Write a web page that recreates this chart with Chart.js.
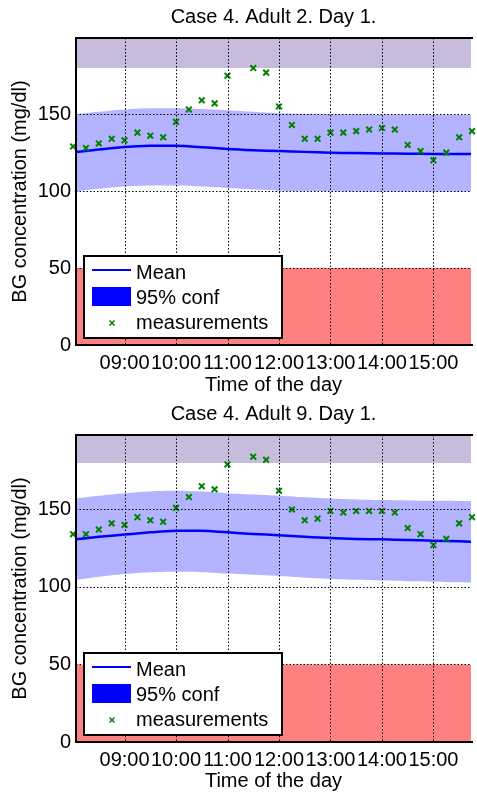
<!DOCTYPE html>
<html>
<head>
<meta charset="utf-8">
<script src="https://cdn.jsdelivr.net/npm/chart.js@4.4.0/dist/chart.umd.min.js"></script>
<style>
  html, body { margin: 0; padding: 0; background: #fff; overflow: hidden; }
  canvas { display: block; }
</style>
</head>
<body>
<canvas id="chartAdult2" width="477" height="397"></canvas>
<canvas id="chartAdult9" width="477" height="396"></canvas>
<script>
// axes
const hourTicks = [9, 10, 11, 12, 13, 14, 15];
const hourLabels = ['09:00', '10:00', '11:00', '12:00', '13:00', '14:00', '15:00'];
const bgTicks = [0, 50, 100, 150];
const timeRange = [8.057, 15.73];

// glucose limits (hypo band 0-50, hyper band 180-200)
const hypoBand = [0, 50];
const hyperBand = [180, 200];
const bandSpan = [7.5, 16.5];

// CGM measurements every 15 minutes (11:15 missing)
const measTimes = [8, 8.25, 8.5, 8.75, 9, 9.25, 9.5, 9.75, 10, 10.25, 10.5, 10.75, 11,
  11.5, 11.75, 12, 12.25, 12.5, 12.75, 13, 13.25, 13.5, 13.75, 14, 14.25, 14.5, 14.75,
  15, 15.25, 15.5, 15.75];
const adult2Meas = [129, 128, 131, 134, 133, 138, 136, 135, 145, 153, 159, 157, 175,
  180, 177, 155, 143, 134, 134, 138, 138, 139, 140, 141, 140, 130, 126, 120, 125, 135, 139];
const adult9Meas = [134, 134, 137, 141, 140, 145, 143, 142, 151, 158, 165, 163, 179,
  184, 182, 162, 150, 143, 144, 149, 148, 149, 149, 149, 148, 138, 134, 127, 131, 141, 145];

// model prediction: mean and 95% confidence limits
const modelTimes = [8, 8.5, 9, 9.5, 10, 10.5, 11, 11.5, 12, 12.5, 13, 13.5, 14, 14.5, 15, 15.5, 16];
const adult2Mean = [125.2, 127.0, 128.6, 129.4, 129.4, 128.5, 127.4, 126.6, 126.0, 125.5, 125.0, 124.7, 124.5, 124.3, 124.2, 124.2, 124.2];
const adult2Upper = [149.8, 151.5, 153.0, 153.8, 153.8, 153.3, 152.5, 151.5, 150.6, 150.2, 150.0, 149.9, 149.8, 149.8, 149.7, 149.7, 149.7];
const adult2Lower = [99.6, 101.5, 103.0, 103.6, 103.6, 103.0, 102.0, 101.0, 100.3, 100.0, 99.9, 99.8, 99.7, 99.7, 99.7, 99.7, 99.7];
const adult9Mean = [130.6, 132.3, 133.8, 135.2, 136.2, 136.2, 135.2, 134.2, 133.3, 132.3, 131.5, 131.0, 130.7, 130.3, 129.8, 129.4, 129.0];
const adult9Upper = [156.8, 158.8, 160.5, 161.6, 162.0, 161.5, 160.5, 159.6, 158.8, 157.8, 157.0, 156.4, 156.0, 155.8, 155.6, 155.5, 155.4];
const adult9Lower = [104.1, 106.5, 108.3, 109.4, 109.8, 109.5, 108.6, 107.8, 107.0, 106.0, 105.2, 104.6, 104.1, 103.7, 103.4, 103.0, 102.7];

const FONT = 'Liberation Sans, Arial, sans-serif';
const FSIZE = 20;
const pts = (xs, ys) => xs.map((x, i) => ({ x: x, y: ys[i] }));

// dotted grid drawn on top of the filled bands (matlab draws the grid over patches)
const dottedGrid = {
  id: 'dottedGrid',
  afterDatasetsDraw(chart) {
    const { ctx, chartArea: a, scales } = chart;
    ctx.save();
    ctx.strokeStyle = '#000';
    ctx.lineWidth = 1;
    ctx.setLineDash([1.5, 2]);
    ctx.beginPath();
    scales.x.ticks.forEach(t => {
      const px = Math.round(scales.x.getPixelForValue(t.value)) + 0.5;
      ctx.moveTo(px, a.top);
      ctx.lineTo(px, a.bottom);
    });
    scales.y.ticks.forEach(t => {
      const py = Math.round(scales.y.getPixelForValue(t.value)) + 0.5;
      ctx.moveTo(a.left, py);
      ctx.lineTo(a.right, py);
    });
    ctx.stroke();
    ctx.restore();
  }
};

// black frame on left, top and bottom like the matlab axes box
const axesFrame = {
  id: 'axesFrame',
  afterDraw(chart) {
    const { ctx, chartArea: a } = chart;
    ctx.save();
    ctx.strokeStyle = '#000';
    ctx.lineWidth = 2;
    ctx.beginPath();
    ctx.moveTo(a.right + 2, a.top);
    ctx.lineTo(a.left, a.top);
    ctx.lineTo(a.left, a.bottom);
    ctx.lineTo(a.right + 2, a.bottom);
    ctx.stroke();
    ctx.restore();
  }
};

// legend box in the lower left corner of the plot
const insideLegend = {
  id: 'insideLegend',
  afterDraw(chart) {
    const { ctx, chartArea: a } = chart;
    const ds = chart.data.datasets;
    const mean = ds.find(d => d.key === 'mean');
    const conf = ds.find(d => d.key === 'upper');
    const meas = ds.find(d => d.key === 'meas');
    const w = 198, h = 82;
    const x = a.left + 8, y = a.bottom - 7 - h;
    ctx.save();
    ctx.fillStyle = '#fff';
    ctx.fillRect(x, y, w, h);
    ctx.strokeStyle = '#000';
    ctx.lineWidth = 2;
    ctx.strokeRect(x, y, w, h);

    ctx.strokeStyle = mean.borderColor;
    ctx.lineWidth = 2;
    ctx.beginPath();
    ctx.moveTo(x + 8, y + 14);
    ctx.lineTo(x + 47, y + 14);
    ctx.stroke();

    ctx.fillStyle = '#0000ff';
    ctx.fillRect(x + 8, y + 31, 39, 19);

    ctx.strokeStyle = meas.borderColor;
    ctx.lineWidth = 1.5;
    ctx.beginPath();
    ctx.moveTo(x + 25.5, y + 64.5); ctx.lineTo(x + 30.5, y + 69.5);
    ctx.moveTo(x + 30.5, y + 64.5); ctx.lineTo(x + 25.5, y + 69.5);
    ctx.stroke();

    ctx.fillStyle = '#000';
    ctx.font = FSIZE + 'px ' + FONT;
    ctx.textBaseline = 'middle';
    ctx.textAlign = 'left';
    ctx.fillText(mean.label, x + 52, y + 17);
    ctx.fillText(conf.label, x + 52, y + 42);
    ctx.fillText(meas.label, x + 52, y + 67);
    ctx.restore();
  }
};

function makeChart(canvasId, title, meas, mean, upper, lower, yMax) {
  const canvas = document.getElementById(canvasId);
  const xAxisHeight = canvas.height - 345;
  return new Chart(canvas, {
    type: 'line',
    data: {
      datasets: [
        {
          label: 'hyper', data: pts(bandSpan, [hyperBand[1], hyperBand[1]]),
          fill: { value: hyperBand[0] }, backgroundColor: '#c8bcdd',
          borderWidth: 0, pointRadius: 0, order: 5
        },
        {
          label: 'hypo', data: pts(bandSpan, [hypoBand[1], hypoBand[1]]),
          fill: { value: hypoBand[0] }, backgroundColor: '#ff8080',
          borderWidth: 0, pointRadius: 0, order: 5
        },
        {
          key: 'upper', label: '95% conf', data: pts(modelTimes, upper),
          fill: '+1', backgroundColor: '#b3b3ff',
          borderWidth: 0, pointRadius: 0, tension: 0.4, order: 3
        },
        {
          key: 'lower', label: 'lower', data: pts(modelTimes, lower),
          fill: false, borderWidth: 0, pointRadius: 0, tension: 0.4, order: 3
        },
        {
          key: 'mean', label: 'Mean', data: pts(modelTimes, mean),
          borderColor: '#0000ff', borderWidth: 2.5, fill: false,
          pointRadius: 0, tension: 0.4, order: 1
        },
        {
          key: 'meas', label: 'measurements', data: pts(measTimes, meas),
          showLine: false, pointStyle: 'crossRot', pointRadius: 4,
          pointBorderWidth: 2, borderColor: '#008000', pointBorderColor: '#008000',
          clip: false, order: 0
        }
      ]
    },
    options: {
      responsive: false,
      animation: false,
      devicePixelRatio: 1,
      layout: { padding: 0 },
      plugins: {
        legend: { display: false },
        tooltip: { enabled: false },
        title: {
          display: true, text: title, color: '#000', fullSize: false,
          font: { family: FONT, size: FSIZE, weight: 'normal' },
          padding: { top: 5, bottom: 9 }
        }
      },
      scales: {
        x: {
          type: 'linear', min: timeRange[0], max: timeRange[1],
          afterBuildTicks: s => { s.ticks = hourTicks.map(v => ({ value: v })); },
          afterFit: s => { s.height = xAxisHeight; },
          ticks: {
            autoSkip: false, maxRotation: 0, minRotation: 0, padding: 6, color: '#000',
            font: { family: FONT, size: FSIZE },
            callback: (v, i) => hourLabels[i]
          },
          grid: { display: false, drawTicks: false },
          border: { display: false },
          title: {
            display: true, text: 'Time of the day', color: '#000',
            font: { family: FONT, size: FSIZE }, padding: { top: 0, bottom: 0 }
          }
        },
        y: {
          type: 'linear', min: 0, max: yMax,
          afterBuildTicks: s => { s.ticks = bgTicks.map(v => ({ value: v })); },
          afterFit: s => { s.width = 76; },
          ticks: { padding: 5, color: '#000', font: { family: FONT, size: FSIZE } },
          grid: { display: false, drawTicks: false },
          border: { display: false },
          title: {
            display: true, text: 'BG concentration (mg/dl)', color: '#000',
            font: { family: FONT, size: FSIZE }, padding: { top: 8, bottom: 0 }
          }
        }
      }
    },
    plugins: [dottedGrid, axesFrame, insideLegend]
  });
}

makeChart('chartAdult2', 'Case 4. Adult 2. Day 1.', adult2Meas, adult2Mean, adult2Upper, adult2Lower, 199.5);
makeChart('chartAdult9', 'Case 4. Adult 9. Day 1.', adult9Meas, adult9Mean, adult9Upper, adult9Lower, 198);
</script>
</body>
</html>
